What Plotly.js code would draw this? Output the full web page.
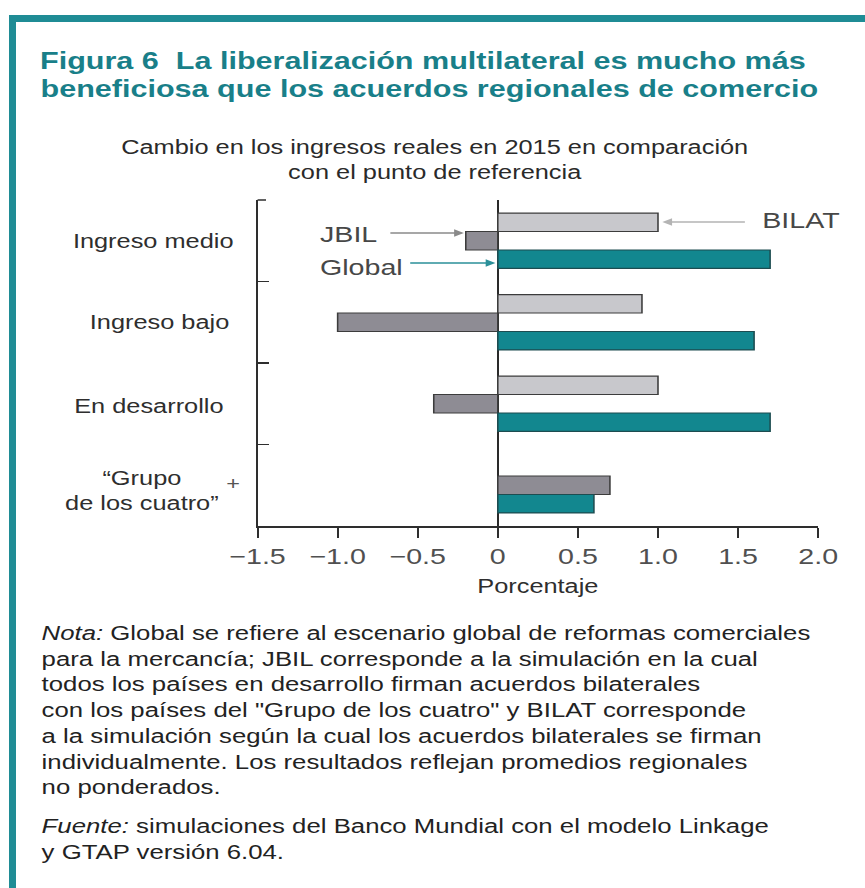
<!DOCTYPE html>
<html>
<head>
<meta charset="utf-8">
<script src="https://cdn.plot.ly/plotly-3.0.1.min.js"></script>
<style>
  html, body { margin: 0; padding: 0; background: #ffffff; overflow: hidden; }
  #chart { width: 665px; height: 888px; transform: scaleX(1.30075); transform-origin: 0 0; }
</style>
</head>
<body>
<div id="chart"></div>
<script>
// ---- Data ----
const categories = ["Ingreso medio", "Ingreso bajo", "En desarrollo", "\u201cGrupo<br>de los cuatro\u201d"];
const categoryKeys = ["medio", "bajo", "desarrollo", "grupo4"];
const bilatValues = [1.0, 0.9, 1.0, null];
const jbilValues = [-0.2, -1.0, -0.4, 0.7];
const globalValues = [1.7, 1.6, 1.7, 0.6];
const tickValues = [-1.5, -1.0, -0.5, 0, 0.5, 1.0, 1.5, 2.0];
const tickLabels = ["\u22121.5", "\u22121.0", "\u22120.5", "0", "0.5", "1.0", "1.5", "2.0"];
const titleLines = ["Figura 6  La liberalización multilateral es mucho más",
                    "beneficiosa que los acuerdos regionales de comercio"];

// ---- Geometry helpers (reference pixels -> paper coords) ----
const W = 665, H = 888, S = 865 / 665;
const ML = 198, MR = 36, MT = 200, MB = 362;
const PW = W - ML - MR, PH = H - MT - MB;
function px(xRef) { return (xRef / S - ML) / PW; }
function py(yRef) { return 1 - (yRef - MT) / PH; }

const FONT = "'Liberation Sans', Arial, Helvetica, sans-serif";
const TEAL = "#12878f";
const TITLE_TEAL = "#197f89";

const traces = [
  { type: "bar", orientation: "h", name: "BILAT", y: categoryKeys, x: bilatValues,
    marker: { color: "#c8c8cc", line: { color: "#3c3c3c", width: 1.2 } } },
  { type: "bar", orientation: "h", name: "JBIL", y: categoryKeys, x: jbilValues,
    marker: { color: "#8e8c94", line: { color: "#3c3c3c", width: 1.2 } } },
  { type: "bar", orientation: "h", name: "Global", y: categoryKeys, x: globalValues,
    marker: { color: TEAL, line: { color: "#1d4c50", width: 1.2 } } }
];

const catAnn = [
  { key: "medio", xr: 237, anchor: "right", ys: 0 },
  { key: "bajo", xr: 231, anchor: "right", ys: 0 },
  { key: "desarrollo", xr: 226, anchor: "right", ys: -2 },
  { key: "grupo4", xr: 142, anchor: "center", ys: -5 }
].map((c, i) => ({
  xref: "paper", yref: "y", x: px(c.xr), y: c.key, xanchor: c.anchor, yanchor: "middle",
  yshift: c.ys, align: "center", showarrow: false, text: categories[i],
  font: { family: FONT, size: 19.5, color: "#2e2e2e" }
}));

const annotations = catAnn.concat([
  // second title line
  { xref: "paper", yref: "paper", x: px(38), y: py(89), xanchor: "left", yanchor: "middle",
    showarrow: false, text: "<b>" + titleLines[1] + "</b>",
    font: { family: FONT, size: 23.5, color: TITLE_TEAL } },
  // stray plus mark
  { xref: "paper", yref: "y", x: px(233), y: "grupo4", xanchor: "center", yshift: 1, showarrow: false, text: "+",
    font: { family: FONT, size: 18, color: "#555555" } },
  // subtitle
  { xref: "paper", yref: "paper", x: px(434), y: py(159.5), xanchor: "center", yanchor: "middle",
    showarrow: false, align: "center",
    text: "Cambio en los ingresos reales en 2015 en comparación<br>con el punto de referencia",
    font: { family: FONT, size: 19.5, color: "#2a2a2a" } },
  // series labels
  { xref: "paper", yref: "paper", x: px(318), y: py(234), xanchor: "left", yanchor: "middle",
    showarrow: false, text: "JBIL", font: { family: FONT, size: 22, color: "#474747" } },
  { xref: "paper", yref: "paper", x: px(318), y: py(267), xanchor: "left", yanchor: "middle",
    showarrow: false, text: "Global", font: { family: FONT, size: 22, color: "#474747" } },
  { xref: "paper", yref: "paper", x: px(759), y: py(220), xanchor: "left", yanchor: "middle",
    showarrow: false, text: "BILAT", font: { family: FONT, size: 22, color: "#474747" } },
  // arrows
  { xref: "x", yref: "y", x: jbilValues[0] - 0.012, y: -0.095, text: "", showarrow: true,
    ax: -58, ay: 0, arrowhead: 2, arrowsize: 1, arrowwidth: 1.5, arrowcolor: "#8a8a8a" },
  { xref: "x", yref: "y", x: -0.015, y: 0.273, text: "", showarrow: true,
    ax: -67, ay: 0, arrowhead: 2, arrowsize: 1, arrowwidth: 1.5, arrowcolor: "#2b9099" },
  { xref: "x", yref: "y", x: bilatValues[0] + 0.027, y: -0.23, text: "", showarrow: true,
    ax: 65, ay: 0, arrowhead: 2, arrowsize: 1, arrowwidth: 1.5, arrowcolor: "#b4b4b4" },
  // notes
  { xref: "paper", yref: "paper", x: px(39), y: py(709.5), xanchor: "left", yanchor: "middle",
    align: "left", showarrow: false,
    text: "<i>Nota:</i> Global se refiere al escenario global de reformas comerciales<br>" +
          "para la mercancía; JBIL corresponde a la simulación en la cual<br>" +
          "todos los países en desarrollo firman acuerdos bilaterales<br>" +
          "con los países del \"Grupo de los cuatro\" y BILAT corresponde<br>" +
          "a la simulación según la cual los acuerdos bilaterales se firman<br>" +
          "individualmente. Los resultados reflejan promedios regionales<br>" +
          "no ponderados.",
    font: { family: FONT, size: 19.8, color: "#222222" } },
  { xref: "paper", yref: "paper", x: px(39), y: py(839), xanchor: "left", yanchor: "middle",
    align: "left", showarrow: false,
    text: "<i>Fuente:</i> simulaciones del Banco Mundial con el modelo Linkage<br>y GTAP versión 6.04.",
    font: { family: FONT, size: 19.8, color: "#222222" } }
]);

const shapes = [
  { type: "rect", xref: "paper", yref: "paper", x0: px(9), x1: px(16), y0: py(15), y1: py(895),
    fillcolor: "#1f8c95", line: { width: 0 } },
  { type: "rect", xref: "paper", yref: "paper", x0: px(9), x1: px(870), y0: py(15), y1: py(22),
    fillcolor: "#1f8c95", line: { width: 0 } },
  // top cap of the category axis
  { type: "line", xref: "paper", yref: "paper", x0: 0, x1: px(266), y0: 1, y1: 1,
    line: { color: "#2e2e2e", width: 1.5 } }
];

const layout = {
  width: W, height: H,
  margin: { l: ML, r: MR, t: MT, b: MB },
  paper_bgcolor: "#ffffff", plot_bgcolor: "#ffffff",
  showlegend: false,
  barmode: "group", bargap: 0.32, bargroupgap: 0,
  title: {
    text: "<b>" + titleLines[0] + "</b>",
    xref: "container", yref: "container", x: 40 / S / W, xanchor: "left",
    y: 1 - 61 / H, yanchor: "middle",
    font: { family: FONT, size: 23.5, color: TITLE_TEAL }
  },
  xaxis: {
    range: [-1.5, 2.0], tickvals: tickValues, ticktext: tickLabels,
    showgrid: false, zeroline: true, zerolinecolor: "#2a2a2a", zerolinewidth: 1.5,
    showline: true, linecolor: "#2e2e2e", linewidth: 1.5,
    ticks: "outside", ticklen: 10, tickwidth: 1.5, tickcolor: "#2e2e2e",
    tickfont: { family: FONT, size: 22, color: "#505050" },
    title: { text: "Porcentaje", standoff: 11, font: { family: FONT, size: 19.5, color: "#2e2e2e" } },
    fixedrange: true
  },
  yaxis: {
    type: "category", categoryorder: "array", categoryarray: categoryKeys,
    range: [3.5, -0.5],
    showgrid: false, zeroline: false,
    showline: true, linecolor: "#2e2e2e", linewidth: 1.5,
    ticks: "inside", tickson: "boundaries", ticklen: 9, tickwidth: 1.5, tickcolor: "#2e2e2e",
    showticklabels: false, fixedrange: true
  },
  annotations: annotations,
  shapes: shapes
};

Plotly.newPlot("chart", traces, layout, { displayModeBar: false, staticPlot: true });
</script>
</body>
</html>
